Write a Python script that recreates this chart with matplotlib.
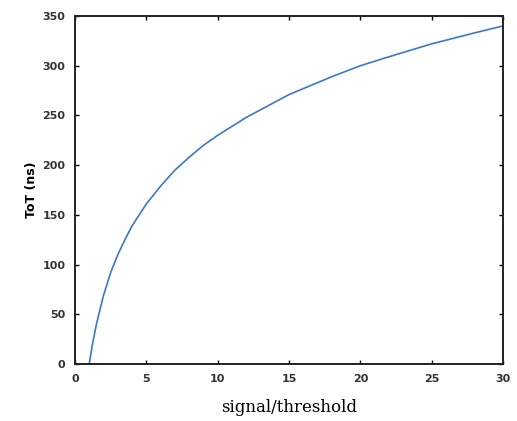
import numpy as np
import matplotlib.pyplot as plt

# values
ratio = [1, 1.2, 1.5, 2, 2.5, 3, 3.5, 4, 4.5, 5, 6, 7, 8, 9, 10, 12, 15, 18, 20, 22, 25, 28, 30]
tot_ns = [0, 18, 40, 69, 92, 110, 125, 139, 150, 161, 179, 195, 208, 220, 230, 248, 271, 289, 300, 309, 322, 333, 340]
xticks = [0, 5, 10, 15, 20, 25, 30]
yticks = [0, 50, 100, 150, 200, 250, 300, 350]

fig = plt.figure(figsize=(5.17, 4.21), dpi=100)
ax = fig.add_axes([0.145, 0.135, 0.828, 0.827])

ax.plot(ratio, tot_ns, color='#3a78c9', lw=1.2)

ax.set_xlim(0, 30)
ax.set_ylim(0, 350)
ax.set_xticks(xticks)
ax.set_yticks(yticks)
ax.tick_params(direction='in', length=3, width=1, top=True, right=True,
               labelsize=8, pad=7)
for lab in ax.get_xticklabels() + ax.get_yticklabels():
    lab.set_fontweight('semibold')
    lab.set_color('#333333')
for sp in ax.spines.values():
    sp.set_linewidth(1.4)
    sp.set_color('#222222')

ax.set_xlabel('signal/threshold', family='DejaVu Serif', fontsize=12, labelpad=11)
ax.set_ylabel('ToT (ns)', fontsize=9, fontweight='bold', labelpad=3)

fig.savefig('out.png', dpi=100)
